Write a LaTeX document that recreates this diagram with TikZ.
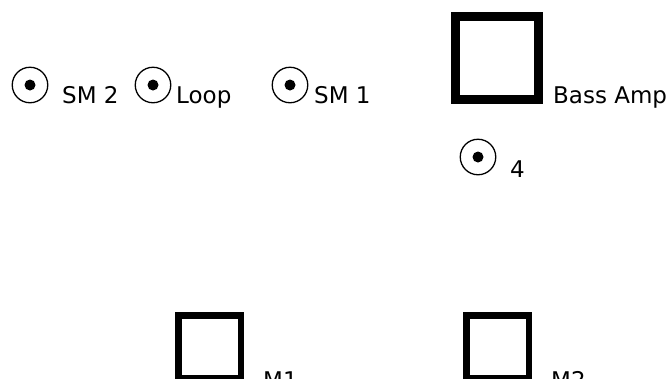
\documentclass[tikz,border=0pt]{standalone}
\usepackage{fontspec}
\setmainfont{DejaVu Sans}
\begin{document}
\begin{tikzpicture}[x=1pt, y=-1pt,
    jack/.style={circle, draw, line width=1.3pt, minimum size=35.5pt, inner sep=0pt},
    cab/.style={draw, inner sep=0pt},
    lbl/.style={anchor=base west, inner sep=0pt, font=\fontsize{23}{23}\selectfont}]
\useasboundingbox (0,0) rectangle (671,378);
\clip (0,0) rectangle (671,378);
% jacks
\foreach \name/\x/\y in {sm2/30/85, loop/153/85, sm1/290/85, four/478/157}
{
    \node[jack] (\name) at (\x,\y) {};
    \fill (\name.center) circle (5.5);
}
% amp and monitors
\node[cab, line width=9pt, minimum size=83pt] (bass) at (497,57.5) {};
\node[cab, line width=6.5pt, minimum size=62.5pt] (m1) at (209.5,346.5) {};
\node[cab, line width=6.5pt, minimum size=62.5pt] (m2) at (497.5,346.5) {};
% labels
\node[lbl] (sm2label) at (62,103) {SM 2};
\node[lbl] (looplabel) at (176,103) {Loop};
\node[lbl] (sm1label) at (314,103) {SM 1};
\node[lbl] (basslabel) at (553,103) {Bass Amp};
\node[lbl] (fourlabel) at (510,177) {4};
\node[lbl] (m1label) at (263,388) {M1};
\node[lbl] (m2label) at (551,388) {M2};
\end{tikzpicture}
\end{document}
